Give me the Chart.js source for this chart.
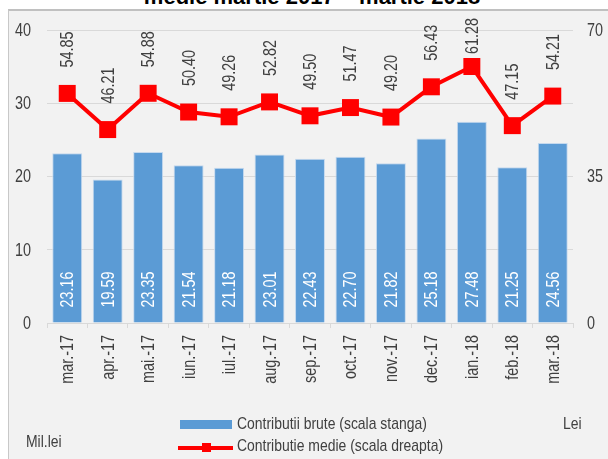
<!DOCTYPE html>
<html>
<head>
<meta charset="utf-8">
<script src="https://cdn.jsdelivr.net/npm/chart.js@4"></script>
<style>
body{margin:0;background:#fff;width:608px;height:459px;overflow:hidden;position:relative;font-family:"Liberation Sans",Arial,sans-serif;}
#title{position:absolute;left:0;width:624px;top:-14px;text-align:center;font-weight:bold;font-size:22px;line-height:22px;color:#000;white-space:nowrap;}
#panel{position:absolute;left:8px;top:9px;width:600px;height:450px;background:#f2f2f2;border-left:1px solid #c8c8c8;border-top:2px solid #c0c0c0;box-sizing:border-box;}
#wrap{position:absolute;left:0;top:0;width:599px;height:448px;}
.lbl{position:absolute;font-size:17px;line-height:20px;color:#404040;white-space:nowrap;transform:scaleX(0.82);transform-origin:0 0;}
.sw{position:absolute;}
</style>
</head>
<body>
<div id="title">medie martie 2017 – martie 2018</div>
<div id="panel">
  <div id="wrap"><canvas id="myChart"></canvas></div>
  <div class="sw" style="left:171px;top:409px;width:52px;height:9px;background:#5b9bd5;"></div>
  <div class="lbl" style="left:228px;top:403px;">Contributii brute (scala stanga)</div>
  <div class="sw" style="left:169px;top:435px;width:55px;height:4px;background:#ff0000;"></div>
  <div class="sw" style="left:193px;top:432px;width:9px;height:9px;background:#ff0000;"></div>
  <div class="lbl" style="left:228px;top:425px;">Contributie medie (scala dreapta)</div>
  <div class="lbl" style="left:17px;top:421px;">Mil.lei</div>
  <div class="lbl" style="left:554px;top:403px;">Lei</div>
</div>
<script>
const months = ["mar.-17","apr.-17","mai.-17","iun.-17","iul.-17","aug.-17","sep.-17","oct.-17","nov.-17","dec.-17","ian.-18","feb.-18","mar.-18"];
const bruteValues = [23.16,19.59,23.35,21.54,21.18,23.01,22.43,22.70,21.82,25.18,27.48,21.25,24.56];
const medieValues = [54.85,46.21,54.88,50.40,49.26,52.82,49.50,51.47,49.20,56.43,61.28,47.15,54.21];
const leftTicks = [0,10,20,30,40];
const rightTicks = [0,35,70];

const fontFamily = "'Liberation Sans', Arial, sans-serif";
const narrow = 0.8; // the original uses a condensed font

function narrowText(ctx, txt, x, y, align, rotated){
  ctx.save();
  ctx.translate(x, y);
  if (rotated) ctx.rotate(-Math.PI / 2);
  ctx.scale(narrow, 1);
  ctx.textAlign = align;
  ctx.fillText(txt, 0, 0);
  ctx.restore();
}

// axis labels and value labels drawn with the condensed text
const narrowLabels = {
  id: "narrowLabels",
  afterDraw(chart){
    const ctx = chart.ctx;
    const area = chart.chartArea;
    const sx = chart.scales.x, sy = chart.scales.y, sy1 = chart.scales.y1;
    ctx.save();
    ctx.font = "18px " + fontFamily;
    ctx.textBaseline = "middle";
    ctx.fillStyle = "#404040";
    leftTicks.forEach(v => narrowText(ctx, String(v), area.left - 16, sy.getPixelForValue(v) + 1, "right", false));
    rightTicks.forEach(v => narrowText(ctx, String(v), area.right + 14, sy1.getPixelForValue(v) + 1, "left", false));
    months.forEach((m, i) => narrowText(ctx, m, sx.getPixelForValue(i) + 1, area.bottom + 12, "right", true));

    chart.data.datasets.forEach((ds, i) => {
      const meta = chart.getDatasetMeta(i);
      meta.data.forEach((el, j) => {
        const txt = ds.data[j].toFixed(2);
        if (ds.type === "bar") {
          ctx.fillStyle = "#ffffff";
          narrowText(ctx, txt, el.x + 1, el.base - 15, "left", true);
        } else {
          ctx.fillStyle = "#404040";
          // keep the label inside the panel, like the original does
          const len = ctx.measureText(txt).width * narrow;
          let y = el.y - 26;
          if (y - len < area.top - 12) y = area.top - 12 + len;
          narrowText(ctx, txt, el.x + 1, y, "left", true);
        }
      });
    });
    ctx.restore();
  }
};

new Chart(document.getElementById("myChart"), {
  data: {
    labels: months,
    datasets: [
      {
        type: "line",
        label: "Contributie medie (scala dreapta)",
        data: medieValues,
        yAxisID: "y1",
        borderColor: "#ff0000",
        backgroundColor: "#ff0000",
        borderWidth: 4,
        pointStyle: "rect",
        pointRadius: 12,
        pointHoverRadius: 12,
        pointBorderWidth: 0,
        tension: 0,
        order: 0
      },
      {
        type: "bar",
        label: "Contributii brute (scala stanga)",
        data: bruteValues,
        yAxisID: "y",
        backgroundColor: "#5b9bd5",
        borderColor: "#c5d9ee",
        borderWidth: {left: 1, right: 1, top: 1, bottom: 0},
        categoryPercentage: 1,
        barPercentage: 0.74,
        order: 1
      }
    ]
  },
  options: {
    responsive: true,
    maintainAspectRatio: false,
    animation: false,
    layout: {padding: {top: 19, left: 0, right: 0, bottom: 0}},
    plugins: {legend: {display: false}, tooltip: {enabled: false}},
    scales: {
      x: {
        offset: true,
        grid: {offset: true, drawOnChartArea: false, color: "#d9d9d9", tickLength: 5},
        border: {color: "#d9d9d9", width: 1},
        ticks: {display: false},
        afterFit(scale){ scale.height = 136; }
      },
      y: {
        position: "left",
        min: 0, max: 40,
        afterBuildTicks(scale){ scale.ticks = leftTicks.map(v => ({value: v})); },
        grid: {color: "#d9d9d9", drawTicks: false},
        border: {display: false},
        ticks: {display: false},
        afterFit(scale){ scale.width = 38; }
      },
      y1: {
        position: "right",
        min: 0, max: 70,
        afterBuildTicks(scale){ scale.ticks = rightTicks.map(v => ({value: v})); },
        grid: {drawOnChartArea: false, drawTicks: false},
        border: {display: false},
        ticks: {display: false},
        afterFit(scale){ scale.width = 35; }
      }
    }
  },
  plugins: [narrowLabels]
});
</script>
</body>
</html>
